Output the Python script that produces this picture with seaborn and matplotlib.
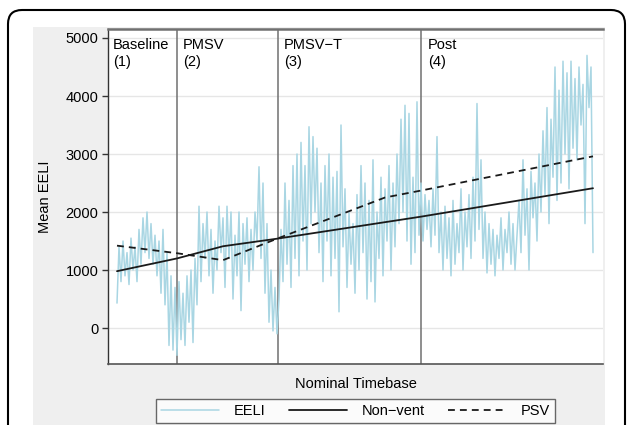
import matplotlib
matplotlib.use('Agg')
import matplotlib.pyplot as plt
import matplotlib.patches as mpatches
from matplotlib.lines import Line2D
import numpy as np
import pandas as pd
import seaborn as sns

# EELI signal, one value per ~2 px of the timebase
eeli = [
    # Baseline
    430, 1400, 800, 1500, 900, 1300, 750, 1550, 1000, 1400,
    800, 1700, 1100, 1900, 1300, 2000, 1200, 1800, 1100, 1600,
    900, 1500, 600, 1700, 400, 1300, -300, 900, -380, 700,
    # PMSV
    -470, 800, -200, 600, -300, 900, 100, 1000, -250, 1200,
    400, 2100, 800, 1800, 1200, 2000, 900, 1700, 600, 1500,
    1000, 2100, 1300, 1900, 700, 2100, 1200, 2000, 500, 1600,
    900, 2000, 300, 1800, 1100, 1900, 800, 1700, 1000, 2000,
    1500, 2780, 1200, 2500, 600, 1800, 100, 1000, -50, 700, -100,
    # PMSV-T
    500, 1700, 800, 2500, 1100, 2200, 700, 2800, 1200, 3000,
    900, 3200, 1500, 2800, 1000, 3470, 1800, 3300, 2000, 3100,
    1300, 2500, 800, 2800, 1500, 3000, 900, 2600, 1200, 2700,
    280, 3500, 1400, 2400, 700, 2000, 1100, 1800, 600, 2300,
    1000, 2800, 1300, 2500, 500, 2200, 800, 2900, 450, 2000,
    1200, 2600, 900, 2400, 1500, 2800, 1000, 2500, 1400, 3000,
    1800, 3600, 2000, 3840, 1500, 3700, 1100, 2600, 1300, 3900, 1600,
    # Post
    2500, 1500, 2300, 1700, 2200, 1400, 2400, 1600, 3300, 1300,
    2000, 1000, 2100, 1200, 1900, 900, 2200, 1100, 1800, 1300,
    2400, 1000, 2000, 1400, 2300, 1200, 2600, 1500, 3870, 1700,
    2900, 1200, 2000, 950, 1800, 1100, 1700, 900, 1600, 1200,
    1900, 1000, 1700, 1300, 2000, 1100, 1800, 1000, 1600, 2200,
    1300, 2900, 1600, 2400, 1000, 2700, 1900, 2500, 1500, 3000,
    2000, 3400, 2300, 3800, 1800, 3600, 2600, 4500, 2200, 4100,
    2500, 4600, 3000, 4400, 2400, 4600, 3100, 4300, 2900, 4500,
    3500, 4200, 1800, 4700, 3800, 4500, 1300,
]

# model lines (knots on the timebase)
nonvent_t = [0, 30, 53, 80, 152, 238]
nonvent_v = [980, 1200, 1410, 1540, 1920, 2410]
psv_t = [0, 30, 53, 80, 134, 152, 238]
psv_v = [1420, 1290, 1170, 1540, 2250, 2370, 2960]

phase_starts = [30, 80.5, 152]
phase_labels = ['Baseline\n(1)', 'PMSV\n(2)', 'PMSV\u2212T\n(3)', 'Post\n(4)']
phase_label_x = [-2, 33, 83.5, 155.5]
yticks = [0, 1000, 2000, 3000, 4000, 5000]

df = pd.DataFrame({'t': np.arange(len(eeli)), 'eeli': eeli})
df_nv = pd.DataFrame({'t': nonvent_t, 'v': nonvent_v})
df_psv = pd.DataFrame({'t': psv_t, 'v': psv_v})

sns.set_theme(style='white')
plt.rcParams['font.family'] = ['Liberation Sans', 'DejaVu Sans']
plt.rcParams['text.color'] = 'black'
plt.rcParams['axes.labelcolor'] = 'black'
plt.rcParams['ytick.color'] = 'black'

fig = plt.figure(figsize=(6.28, 4.25), dpi=100)
fig.patch.set_facecolor('white')

# grey graph region and rounded outer frame (pixel coords)
bg = mpatches.Rectangle((33, -10), 572, 408, transform=None,
                        facecolor='#efefef', edgecolor='none', zorder=-2)
frame = mpatches.FancyBboxPatch((8, -40), 617, 455, transform=None,
                                boxstyle='round,pad=0,rounding_size=14',
                                facecolor='none', edgecolor='black',
                                linewidth=1.5, zorder=-1)
fig.add_artist(bg)
fig.add_artist(frame)

ax = fig.add_axes([108 / 628, 61 / 425, 495 / 628, 335 / 425])
ax.set_facecolor('white')

eeli_col = '#a9d6e3'
dash = (0, (3.8, 2.8))
sns.lineplot(data=df, x='t', y='eeli', ax=ax, color=eeli_col, linewidth=1.1)
sns.lineplot(data=df_nv, x='t', y='v', ax=ax, color='#1a1a1a', linewidth=1.3)
sns.lineplot(data=df_psv, x='t', y='v', ax=ax, color='#1a1a1a', linewidth=1.3,
             linestyle=dash)

for x in phase_starts:
    ax.axvline(x, color='#707070', linewidth=1.1, zorder=1)

for x, lab in zip(phase_label_x, phase_labels):
    ax.text(x, 0.972, lab, transform=ax.get_xaxis_transform(), ha='left',
            va='top', fontsize=10.5, color='black', linespacing=1.25)

ax.set_xlim(-4.5, 243)
ax.set_ylim(-620, 5155)
ax.set_yticks(yticks)
ax.set_yticklabels([str(v) for v in yticks], fontsize=10.5)
ax.set_xticks([])
ax.tick_params(axis='y', left=True, length=4, width=1, color='#333333', pad=3)
ax.grid(axis='y', color='#e6e6e6', linewidth=1)
ax.set_axisbelow(True)

ax.set_ylabel('Mean EELI', fontsize=10.5, labelpad=10)
ax.set_xlabel('Nominal Timebase', fontsize=10.5, labelpad=9)

ax.spines['right'].set_visible(False)
ax.spines['left'].set_color('#333333')
ax.spines['left'].set_linewidth(1)
ax.spines['bottom'].set_color('#555555')
ax.spines['bottom'].set_linewidth(1.2)
ax.spines['top'].set_color('#707070')
ax.spines['top'].set_linewidth(1.8)

handles = [Line2D([], [], color=eeli_col, linewidth=1.1),
           Line2D([], [], color='#1a1a1a', linewidth=1.3),
           Line2D([], [], color='#1a1a1a', linewidth=1.3, linestyle=dash)]
leg = fig.legend(handles, ['EELI', 'Non\u2212vent', 'PSV'], ncol=3,
                 loc='upper center', bbox_to_anchor=(355.5 / 628, 1 - 399 / 425),
                 borderaxespad=0, frameon=True, fancybox=False, fontsize=10.5,
                 handlelength=4.0, handletextpad=1.0, columnspacing=1.6,
                 borderpad=0.35)
leg.get_frame().set_edgecolor('#444444')
leg.get_frame().set_linewidth(1)
leg.get_frame().set_facecolor('white')

fig.savefig('out.png', dpi=100)
